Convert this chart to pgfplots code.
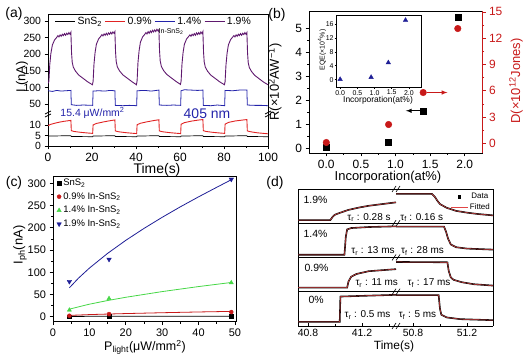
\documentclass[border=0pt]{standalone}
\usepackage{fontspec}
\setmainfont{Liberation Sans}
\usepackage{pgfplots}
\pgfplotsset{compat=1.18}
\definecolor{pur}{RGB}{95,25,110}
\definecolor{nblue}{RGB}{35,35,170}
\definecolor{ared}{RGB}{225,35,35}
\definecolor{dred}{RGB}{200,25,25}
\definecolor{cgreen}{RGB}{70,215,70}
\definecolor{cblue}{RGB}{30,30,150}
\definecolor{fitred}{RGB}{225,70,70}
\newcommand{\fs}[1]{\fontsize{#1}{#1}\selectfont}
\pgfplotsset{
 base/.style={scale only axis, anchor=south west,
  /pgf/number format/assume math mode=true,
  tick align=outside, major tick length=3.5bp, minor tick length=2bp,
  every tick/.style={black, line width=0.6pt},
  axis line style={line width=0.8pt},
  tick label style={font=\fs{10.5}}},
}
\begin{document}
\begin{tikzpicture}[x=1bp,y=1bp]
\useasboundingbox (0,0) rectangle (525,357);
% ================= (a) lower =================
\begin{axis}[base, at={(48bp,211bp)}, width=220bp, height=31bp,
  xmin=0, xmax=100, ymin=0, ymax=15,
  xtick={0,20,...,100}, minor x tick num=1, ytick={0,5,10},
  axis x line*=bottom, axis y line*=box, ytick pos=left, xtick pos=left,
  xticklabel style={font=\fs{12}}]
\addplot[black, line width=0.7pt] coordinates {(0,4.8)(10.4,5.0)(10.6,4.6)(20.3,4.5)(20.5,4.8)(30.4,5.0)(30.6,4.6)(40.3,4.5)(40.5,4.8)(50.4,5.0)(50.6,4.6)(60.3,4.5)(60.5,4.8)(70.4,5.0)(70.6,4.6)(80.3,4.5)(80.5,4.8)(90.4,5.0)(90.6,4.6)(100,4.5)};
\addplot[ared, line width=0.9pt] coordinates {(0,9.8)(1,10.4)(3,11.0)(5,11.5)(7,11.9)(10.4,12.4)(10.6,7.4)(12,7.0)(15,6.6)(18,6.3)(20.3,6.1)(20.5,10.2)(22,10.9)(25,11.6)(28,12.2)(30.4,12.6)(30.6,7.3)(32,6.9)(35,6.5)(38,6.2)(40.3,6.0)(40.5,10.3)(42,11.0)(45,11.7)(48,12.3)(50.4,12.7)(50.6,7.3)(52,6.9)(55,6.5)(58,6.2)(60.3,6.0)(60.5,10.5)(62,11.3)(65,12.0)(68,12.5)(70.4,12.8)(70.6,7.4)(72,7.0)(75,6.6)(78,6.3)(80.3,6.1)(80.5,10.6)(82,11.4)(85,12.1)(88,12.5)(90.4,12.8)(90.6,7.3)(92,6.9)(95,6.4)(98,6.1)(100,5.9)};
\end{axis}
% ================= (a) upper =================
\begin{axis}[base, at={(48bp,242bp)}, width=220bp, height=101bp,
  xmin=0, xmax=100, ymin=17, ymax=321,
  xtick=\empty, ytick={50,100,...,300},
  axis x line*=top, axis y line*=box, ytick pos=left,
  legend columns=4,
  legend style={at={(rel axis cs:0.03,0.99)}, anchor=north west, draw=none, fill=none,
    font=\fs{10.5}, inner sep=0pt, /tikz/every even column/.append style={column sep=1bp}},
  legend image code/.code={\draw[#1] (0bp,0bp) -- (20bp,0bp);}]
\addlegendimage{black, line width=0.8pt}\addlegendentry{SnS\textsubscript{2}}
\addlegendimage{ared, line width=0.8pt}\addlegendentry{0.9\%}
\addlegendimage{nblue, line width=0.8pt}\addlegendentry{1.4\%}
\addlegendimage{pur, line width=0.8pt}\addlegendentry{1.9\%}
\addplot[nblue, line width=0.8pt, forget plot] coordinates {(0,90)(2,88)(4,91)(6,89)(8,90)(10.4,91)(10.6,48)(13,46)(16,47)(20.3,46)(20.5,89)(23,90)(26,89)(28,91)(30.4,90)(30.6,46)(34,45)(37,46)(40.3,45)(40.5,90)(44,91)(47,89)(50.4,92)(50.6,47)(54,46)(57,47)(60.3,46)(60.5,90)(62,93)(65,92)(68,91)(70.4,92)(70.6,46)(74,45)(77,47)(80.3,45)(80.5,91)(84,90)(87,92)(90.4,92)(90.6,47)(94,46)(97,46)(100,45)};
\addplot[pur, line width=0.9pt, forget plot] coordinates {(0,112)(0.4,118)(0.8,168)(1.3,202)(2,228)(3,243)(4,251)(4.5,256)(5,252)(5.5,258)(6,254)(6.5,260)(7,256)(7.5,262)(8,257)(8.5,263)(9,259)(9.5,265)(10,260)(10.4,266)(10.7,205)(11,176)(11.5,161)(12.5,149)(14,137)(16,127)(18,117)(20.2,108)
(20.5,118)(20.9,170)(21.4,205)(22,230)(23,246)(24,254)(24.5,259)(25,255)(25.5,261)(26,257)(26.5,263)(27,258)(27.5,264)(28,260)(28.5,266)(29,261)(29.5,267)(30,263)(30.4,268)(30.7,207)(31,178)(31.5,162)(32.5,150)(34,138)(36,128)(38,118)(40.2,108)
(40.5,120)(40.9,175)(41.4,210)(42,236)(43,252)(44,260)(44.5,265)(45,261)(45.5,268)(46,263)(46.5,270)(47,265)(47.5,272)(48,267)(48.5,273)(49,268)(49.5,275)(50,270)(50.4,274)(50.7,210)(51,180)(51.5,164)(52.5,151)(54,139)(56,129)(58,119)(60.2,109)
(60.5,119)(60.9,170)(61.4,205)(62,230)(63,246)(64,254)(64.5,258)(65,254)(65.5,260)(66,256)(66.5,262)(67,257)(67.5,264)(68,259)(68.5,265)(69,260)(69.5,267)(70,262)(70.4,268)(70.7,206)(71,177)(71.5,161)(72.5,149)(74,137)(76,127)(78,117)(80.2,108)
(80.5,118)(80.9,168)(81.4,203)(82,228)(83,244)(84,252)(84.5,256)(85,252)(85.5,258)(86,254)(86.5,260)(87,256)(87.5,262)(88,257)(88.5,263)(89,259)(89.5,265)(90,260)(90.4,265)(90.7,204)(91,175)(91.5,160)(92.5,148)(94,136)(96,126)(98,116)(100,108)};
\end{axis}
% break marks (a)
\foreach \xx in {48,268} {\draw[line width=0.7pt] (\xx-3,240) -- (\xx+3,243); \draw[line width=0.7pt] (\xx-3,243) -- (\xx+3,246);}
\node[font=\fs{7}] at (171,325.3) {In-SnS\textsubscript{2}};
\node[font=\fs{10.5}, text=nblue] at (92.5,243.7) {15.4 μW/mm\textsuperscript{2}};
\node[font=\fs{14}, text=nblue] at (207,243.7) {405 nm};
\node[font=\fs{13}, rotate=90] at (22,280) {I (nA)};
\node[font=\fs{14}] at (157,187) {Time(s)};
\node[font=\fs{14}] at (14,343.5) {(a)};
% ================= (b) =================
\begin{axis}[base, at={(309bp,204bp)}, width=173bp, height=142bp,
  xmin=-0.25, xmax=2.25, ymin=-0.21, ymax=5.71,
  xtick={0,0.5,...,2}, ytick={0,...,5}, minor x tick num=1, minor y tick num=1,
  tick pos=left, tick label style={font=\fs{12}},
  xticklabel style={/pgf/number format/.cd,fixed,fixed zerofill,precision=1}]
\addplot[only marks, mark=square*, mark size=3bp, black] coordinates {(0,0.02)(0.9,0.22)(1.4,1.55)(1.9,5.45)};
\draw[-latex, line width=1pt] (axis cs:1.37,1.55) -- (axis cs:1.15,1.55);
\end{axis}
\begin{axis}[base, at={(309bp,204bp)}, width=173bp, height=142bp,
  xmin=-0.25, xmax=2.25, ymin=-1.1, ymax=15.1,
  axis x line=none, axis y line*=right, ytick={0,3,...,15}, minor y tick num=1,
  y axis line style={dred}, every tick/.style={dred, line width=0.6pt},
  tick label style={font=\fs{12}, text=dred}]
\addplot[only marks, mark=*, mark size=3.3bp, dred] coordinates {(0,0.1)(0.9,2.15)(1.4,5.8)(1.9,13.1)};
\draw[-latex, dred, line width=1pt] (axis cs:1.45,5.8) -- (axis cs:1.75,5.8);
\end{axis}
% inset
\begin{axis}[base, at={(336.7bp,270bp)}, width=84.3bp, height=72bp,
  xmin=-0.1, xmax=2.35, ymin=-2.1, ymax=18.6,
  xtick={0,0.5,...,2}, ytick={0,4,...,16}, tick pos=left,
  major tick length=2bp, axis line style={line width=0.6pt},
  axis background/.style={fill=white},
  tick label style={font=\fs{7}, inner sep=1bp},
  xticklabel style={/pgf/number format/.cd,fixed,fixed zerofill,precision=1}]
\addplot[only marks, mark=triangle*, mark size=2.6bp, cblue] coordinates {(0,0.1)(0.9,0.7)(1.4,4.9)(1.9,17.1)};
\end{axis}
\node[font=\fs{7}, rotate=90] at (322,307) {EQE(×10\textsuperscript{4}\%)};
\node[font=\fs{8.5}] at (378,256.5) {Incorporation(at\%)};
\node[font=\fs{13}, rotate=90] at (275,275) {R(×10\textsuperscript{2}AW\textsuperscript{−1})};
\node[font=\fs{13}, rotate=90, text=dred] at (516,276) {D(×10\textsuperscript{12}Jones)};
\node[font=\fs{13}] at (388,180) {Incorporation(at\%)};
\node[font=\fs{14}] at (277,342.5) {(b)};
% ================= (c) =================
\begin{axis}[base, at={(53bp,35.3bp)}, width=183bp, height=145.7bp,
  xmin=0, xmax=50.3, ymin=-11.2, ymax=316.4,
  xtick={0,10,...,50}, ytick={0,50,...,300}, minor x tick num=1, minor y tick num=1,
  tick pos=left, tick label style={font=\fs{11}},
  legend cell align=left,
  legend style={at={(rel axis cs:0.02,0.995)}, anchor=north west, draw=none, fill=none,
    font=\fs{9.5}, inner sep=0pt, row sep=1.6bp}]
\addplot[only marks, mark=square*, mark size=1.8bp, black] coordinates {(4.5,0.5)(15.4,0.8)(49,0.8)};
\addlegendentry{SnS\textsubscript{2}}
\addplot[only marks, mark=*, mark size=2bp, dred] coordinates {(4.5,2.2)(15.4,6)(49,10.5)};
\addlegendentry{0.9\% In-SnS\textsubscript{2}}
\addplot[only marks, mark=triangle*, mark size=2.4bp, cgreen] coordinates {(4.5,15)(15.4,41)(49,76.5)};
\addlegendentry{1.4\% In-SnS\textsubscript{2}}
\addplot[only marks, mark=triangle*, mark options={rotate=180}, mark size=2.6bp, cblue] coordinates {(4.5,79)(15.4,129)(49,309)};
\addlegendentry{1.9\% In-SnS\textsubscript{2}}
\addplot[black, line width=0.8pt, forget plot] coordinates {(4.5,0.8)(15,0.9)(30,1.0)(49,1.0)};
\addplot[dred, line width=0.8pt, forget plot] coordinates {(4.5,3)(10,4.8)(15,6.0)(20,7.1)(30,9.0)(40,10.7)(49,12)};
\addplot[cgreen, line width=0.8pt, forget plot] coordinates {(4.5,17)(10,28.2)(15,36.4)(20,43.7)(30,56.5)(40,67.8)(49,77)};
\addplot[cblue, line width=0.8pt, forget plot] coordinates {(4.5,65)(7,86.7)(10,109.3)(15,142.4)(20,171.7)(25,198.5)(30,223.5)(35,247.1)(40,269.5)(45,291)(49,308)};
\end{axis}
\node[font=\fs{13}, rotate=90] at (20,112) {I\textsubscript{ph}(nA)};
\node[font=\fs{12.5}] at (145,9.5) {P\textsubscript{light}(μW/mm\textsuperscript{2})};
\node[font=\fs{14}] at (14,174.5) {(c)};
% ================= (d) =================
\begin{axis}[base, at={(298bp,31bp)}, width=98bp, height=137bp,
  xmin=40.726, xmax=41.452, ymin=0, ymax=4,
  axis x line*=box, axis y line*=left, ytick=\empty,
  xtick={40.8,41.2}, minor xtick={41.0,41.4}, xtick pos=left, tick align=inside,
  tick label style={font=\fs{10.5}},
  xticklabel style={/pgf/number format/.cd,fixed,fixed zerofill,precision=1}]
\draw[line width=0.8pt] (rel axis cs:0,0.25) -- (rel axis cs:1,0.25);
\draw[line width=0.8pt] (rel axis cs:0,0.5) -- (rel axis cs:1,0.5);
\draw[line width=0.8pt] (rel axis cs:0,0.75) -- (rel axis cs:1,0.75);
\addplot[black, line width=1.6pt] coordinates {(40.726,3.09)(40.965,3.09)(40.985,3.2)(41.0,3.25)(41.04,3.31)(41.1,3.39)(41.18,3.46)(41.25,3.51)(41.35,3.56)(41.452,3.61)};
\addplot[fitred, line width=0.5pt] coordinates {(40.726,3.09)(40.965,3.09)(40.985,3.2)(41.0,3.25)(41.04,3.31)(41.1,3.39)(41.18,3.46)(41.25,3.51)(41.35,3.56)(41.452,3.61)};
\addplot[black, line width=1.6pt] coordinates {(40.726,2.08)(41.07,2.08)(41.08,2.6)(41.09,2.82)(41.12,2.86)(41.25,2.89)(41.452,2.91)};
\addplot[fitred, line width=0.5pt] coordinates {(40.726,2.08)(41.07,2.08)(41.08,2.6)(41.09,2.82)(41.12,2.86)(41.25,2.89)(41.452,2.91)};
\addplot[black, line width=1.6pt] coordinates {(40.726,1.12)(41.09,1.12)(41.1,1.3)(41.12,1.44)(41.16,1.52)(41.25,1.6)(41.452,1.66)};
\addplot[fitred, line width=0.5pt] coordinates {(40.726,1.12)(41.09,1.12)(41.1,1.3)(41.12,1.44)(41.16,1.52)(41.25,1.6)(41.452,1.66)};
\addplot[black, line width=1.6pt] coordinates {(40.726,0.12)(41.035,0.12)(41.04,0.86)(41.2,0.88)(41.452,0.91)};
\addplot[fitred, line width=0.5pt] coordinates {(40.726,0.12)(41.035,0.12)(41.04,0.86)(41.2,0.88)(41.452,0.91)};
\end{axis}
\begin{axis}[base, at={(396bp,31bp)}, width=97bp, height=137bp,
  xmin=50.674, xmax=51.393, ymin=0, ymax=4,
  axis x line*=box, axis y line*=right, ytick=\empty,
  xtick={50.8,51.2}, minor xtick={51.0}, xtick pos=left, tick align=inside,
  tick label style={font=\fs{10.5}},
  xticklabel style={/pgf/number format/.cd,fixed,fixed zerofill,precision=1},
  legend style={at={(rel axis cs:0.99,0.985)}, anchor=north east, draw=none, fill=none,
    font=\fs{8}, inner sep=0pt, row sep=0pt}]
\addlegendimage{only marks, mark=square*, mark size=1.3bp, black}\addlegendentry{Data}
\addlegendimage{fitred, line width=0.8pt}\addlegendentry{Fitted}
\draw[line width=0.8pt] (rel axis cs:0,0.25) -- (rel axis cs:1,0.25);
\draw[line width=0.8pt] (rel axis cs:0,0.5) -- (rel axis cs:1,0.5);
\draw[line width=0.8pt] (rel axis cs:0,0.75) -- (rel axis cs:1,0.75);
\addplot[black, line width=1.6pt, forget plot] coordinates {(50.674,3.86)(50.94,3.86)(50.96,3.78)(50.98,3.66)(51.0,3.56)(51.05,3.45)(51.12,3.36)(51.2,3.31)(51.28,3.27)(51.393,3.23)};
\addplot[fitred, line width=0.5pt, forget plot] coordinates {(50.674,3.86)(50.94,3.86)(50.96,3.78)(50.98,3.66)(51.0,3.56)(51.05,3.45)(51.12,3.36)(51.2,3.31)(51.28,3.27)(51.393,3.23)};
\addplot[black, line width=1.6pt, forget plot] coordinates {(50.674,2.90)(51.03,2.90)(51.045,2.75)(51.06,2.55)(51.08,2.38)(51.12,2.30)(51.2,2.26)(51.393,2.23)};
\addplot[fitred, line width=0.5pt, forget plot] coordinates {(50.674,2.90)(51.03,2.90)(51.045,2.75)(51.06,2.55)(51.08,2.38)(51.12,2.30)(51.2,2.26)(51.393,2.23)};
\addplot[black, line width=1.6pt, forget plot] coordinates {(50.674,1.87)(51.055,1.86)(51.065,1.6)(51.08,1.42)(51.1,1.35)(51.16,1.28)(51.25,1.22)(51.393,1.18)};
\addplot[fitred, line width=0.5pt, forget plot] coordinates {(50.674,1.87)(51.055,1.86)(51.065,1.6)(51.08,1.42)(51.1,1.35)(51.16,1.28)(51.25,1.22)(51.393,1.18)};
\addplot[black, line width=1.6pt, forget plot] coordinates {(50.674,0.9)(50.99,0.9)(51.0,0.5)(51.01,0.33)(51.05,0.25)(51.15,0.2)(51.393,0.17)};
\addplot[fitred, line width=0.5pt, forget plot] coordinates {(50.674,0.9)(50.99,0.9)(51.0,0.5)(51.01,0.33)(51.05,0.25)(51.15,0.2)(51.393,0.17)};
\end{axis}
\foreach \yy in {31,65.25,99.5,133.75,168} {\draw[line width=0.6pt] (392,\yy-3) -- (396,\yy+3); \draw[line width=0.6pt] (396,\yy-3) -- (400,\yy+3);}
\node[font=\fs{10.5}, anchor=west] at (300,157) {1.9\%};
\node[font=\fs{10.5}, anchor=west] at (300,123) {1.4\%};
\node[font=\fs{10.5}, anchor=west] at (301,88.7) {0.9\%};
\node[font=\fs{10.5}, anchor=west] at (305,57) {0\%};
\node[font=\fs{10}] at (369,139.3) {τ\textsubscript{r} : 0.28 s};
\node[font=\fs{10}] at (421.7,139.3) {τ\textsubscript{f} : 0.16 s};
\node[font=\fs{10}] at (373,106) {τ\textsubscript{r} : 13 ms};
\node[font=\fs{10}] at (422.5,106) {τ\textsubscript{f} : 28 ms};
\node[font=\fs{10}] at (376.7,73.7) {τ\textsubscript{r} : 11 ms};
\node[font=\fs{10}] at (429,73.7) {τ\textsubscript{f} : 17 ms};
\node[font=\fs{10}] at (367.5,42) {τ\textsubscript{r} : 0.5 ms};
\node[font=\fs{10}] at (417.5,42) {τ\textsubscript{f} : 5 ms};
\node[font=\fs{12}] at (394,10.3) {Time(s)};
\node[font=\fs{14}] at (275,173.7) {(d)};
\end{tikzpicture}
\end{document}
